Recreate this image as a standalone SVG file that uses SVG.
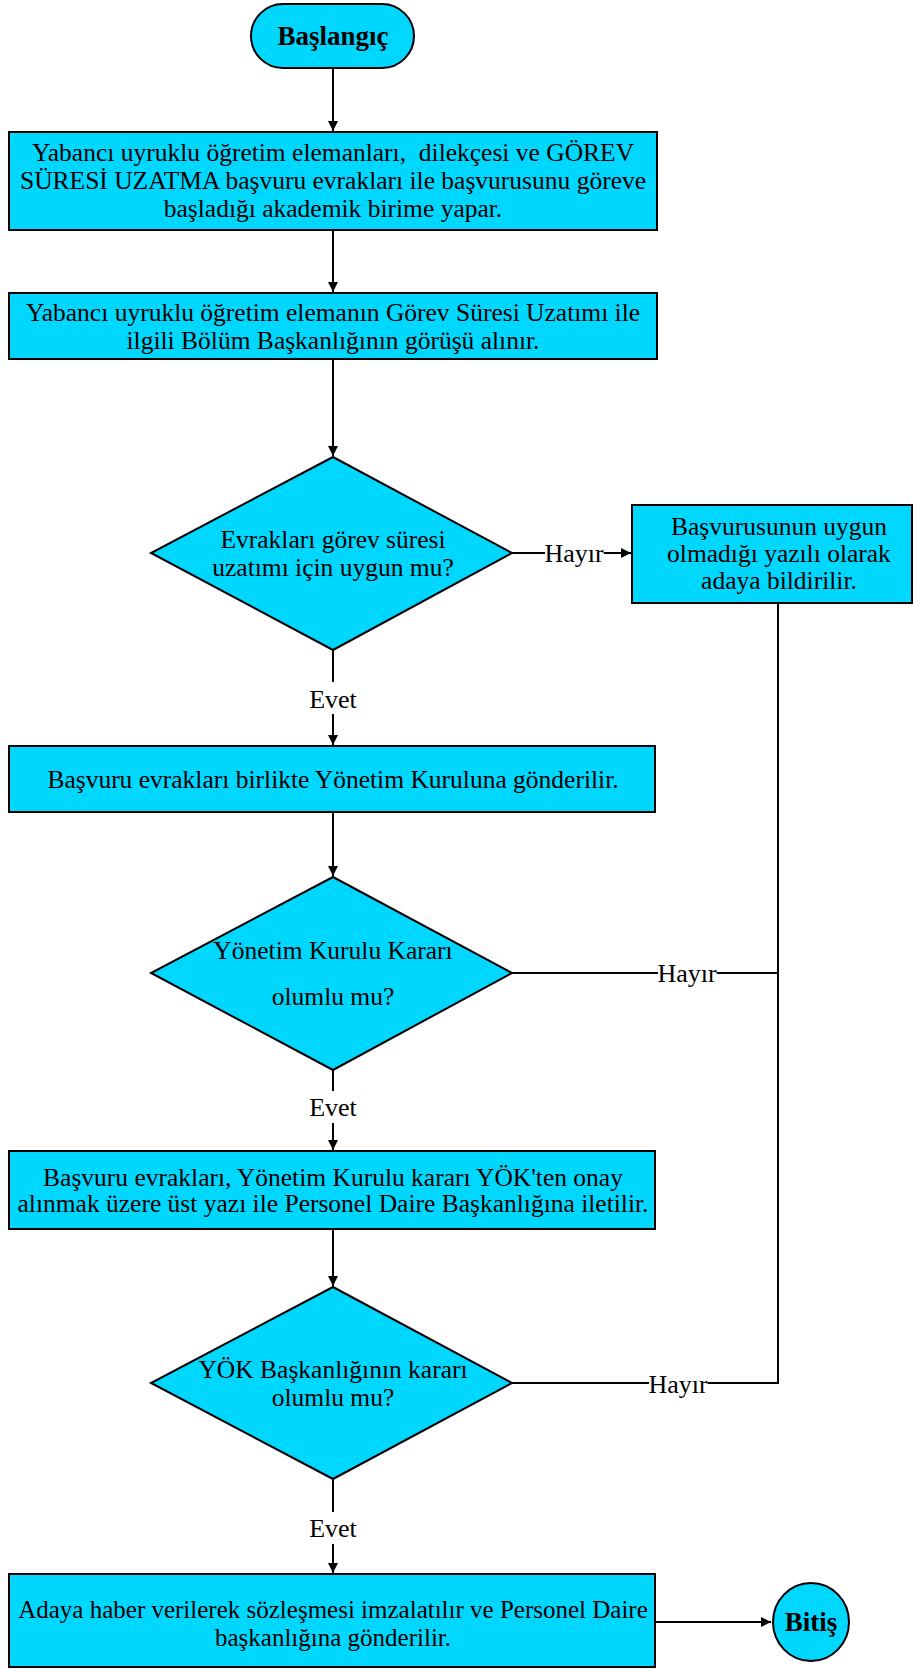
<svg xmlns="http://www.w3.org/2000/svg" width="913" height="1669" viewBox="0 0 913 1669">
<defs>
<marker id="arr" viewBox="0 0 10 10" refX="10" refY="5" markerWidth="10" markerHeight="10" markerUnits="userSpaceOnUse" orient="auto">
<path d="M0,0 L10,5 L0,10 z" fill="#000"/>
</marker>
</defs>
<style>
.n{fill:#00D7FF;stroke:#000;stroke-width:2}
.t{font-family:"Liberation Serif","Times New Roman",serif;font-size:25.5px;fill:#000;text-anchor:middle;white-space:pre}
.s{font-size:25px}
.b{font-weight:bold;font-size:27px}
.c{fill:none;stroke:#000;stroke-width:2}
.l{font-family:"Liberation Serif","Times New Roman",serif;font-size:26px;fill:#000;text-anchor:middle}
.bg{fill:#fff}
</style>
<rect width="913" height="1669" fill="#fff"/>
<g id="connectors">
<line class="c" x1="333" y1="68" x2="333" y2="131" marker-end="url(#arr)"/>
<line class="c" x1="333" y1="230" x2="333" y2="292" marker-end="url(#arr)"/>
<line class="c" x1="333" y1="359" x2="333" y2="456" marker-end="url(#arr)"/>
<line class="c" x1="512" y1="553" x2="631" y2="553" marker-end="url(#arr)"/>
<line class="c" x1="333" y1="650" x2="333" y2="745" marker-end="url(#arr)"/>
<line class="c" x1="333" y1="812" x2="333" y2="876" marker-end="url(#arr)"/>
<line class="c" x1="333" y1="1070" x2="333" y2="1150" marker-end="url(#arr)"/>
<line class="c" x1="333" y1="1229" x2="333" y2="1286" marker-end="url(#arr)"/>
<line class="c" x1="333" y1="1479" x2="333" y2="1573" marker-end="url(#arr)"/>
<line class="c" x1="655" y1="1622" x2="771" y2="1622" marker-end="url(#arr)"/>
<polyline class="c" points="778,603 778,1383 512,1383"/>
<line class="c" x1="512" y1="973" x2="778" y2="973"/>
<rect class="bg" x="545" y="538" width="59" height="30"/>
<text class="l" x="574" y="562">Hayır</text>
<rect class="bg" x="658" y="958" width="59" height="30"/>
<text class="l" x="687" y="982">Hayır</text>
<rect class="bg" x="649" y="1370" width="59" height="30"/>
<text class="l" x="678" y="1393">Hayır</text>
<rect class="bg" x="306" y="682" width="54" height="32"/>
<text class="l" x="333" y="708">Evet</text>
<rect class="bg" x="306" y="1091" width="54" height="32"/>
<text class="l" x="333" y="1116">Evet</text>
<rect class="bg" x="306" y="1512" width="54" height="32"/>
<text class="l" x="333" y="1537">Evet</text>
</g>
<g id="start">
<rect class="n" x="251" y="4" width="163" height="64" rx="32" ry="32"/>
<text class="t b" x="333" y="45">Başlangıç</text>
</g>
<g id="step1">
<rect class="n" x="9" y="132" width="648" height="98"/>
<text class="t" x="333" y="161">Yabancı uyruklu öğretim elemanları,  dilekçesi ve GÖREV</text>
<text class="t" x="333" y="189">SÜRESİ UZATMA başvuru evrakları ile başvurusunu göreve</text>
<text class="t" x="333" y="217">başladığı akademik birime yapar.</text>
</g>
<g id="step2">
<rect class="n" x="9" y="293" width="648" height="66"/>
<text class="t" x="333" y="321">Yabancı uyruklu öğretim elemanın Görev Süresi Uzatımı ile</text>
<text class="t" x="333" y="349">ilgili Bölüm Başkanlığının görüşü alınır.</text>
</g>
<g id="decision1">
<polygon class="n" points="333,457 512,553 333,650 151,553"/>
<text class="t" x="333" y="548">Evrakları görev süresi</text>
<text class="t" x="333" y="576">uzatımı için uygun mu?</text>
</g>
<g id="reject">
<rect class="n" x="632" y="505" width="280" height="98"/>
<text class="t" x="779" y="535">Başvurusunun uygun</text>
<text class="t" x="779" y="562">olmadığı yazılı olarak</text>
<text class="t" x="779" y="589">adaya bildirilir.</text>
</g>
<g id="step3">
<rect class="n" x="9" y="746" width="646" height="66"/>
<text class="t" x="333" y="788">Başvuru evrakları birlikte Yönetim Kuruluna gönderilir.</text>
</g>
<g id="decision2">
<polygon class="n" points="333,877 512,973 333,1070 151,973"/>
<text class="t" x="333" y="959">Yönetim Kurulu Kararı</text>
<text class="t" x="333" y="1005">olumlu mu?</text>
</g>
<g id="step4">
<rect class="n" x="9" y="1151" width="646" height="78"/>
<text class="t" x="333" y="1186">Başvuru evrakları, Yönetim Kurulu kararı YÖK'ten onay</text>
<text class="t" x="333" y="1212">alınmak üzere üst yazı ile Personel Daire Başkanlığına iletilir.</text>
</g>
<g id="decision3">
<polygon class="n" points="333,1287 512,1383 333,1479 151,1383"/>
<text class="t" x="333" y="1378">YÖK Başkanlığının kararı</text>
<text class="t" x="333" y="1406">olumlu mu?</text>
</g>
<g id="step5">
<rect class="n" x="9" y="1574" width="646" height="93"/>
<text class="t s" x="333" y="1618">Adaya haber verilerek sözleşmesi imzalatılır ve Personel Daire</text>
<text class="t s" x="333" y="1646">başkanlığına gönderilir.</text>
</g>
<g id="end">
<ellipse class="n" cx="811" cy="1622" rx="38" ry="39"/>
<text class="t b" x="811" y="1631">Bitiş</text>
</g>
</svg>
